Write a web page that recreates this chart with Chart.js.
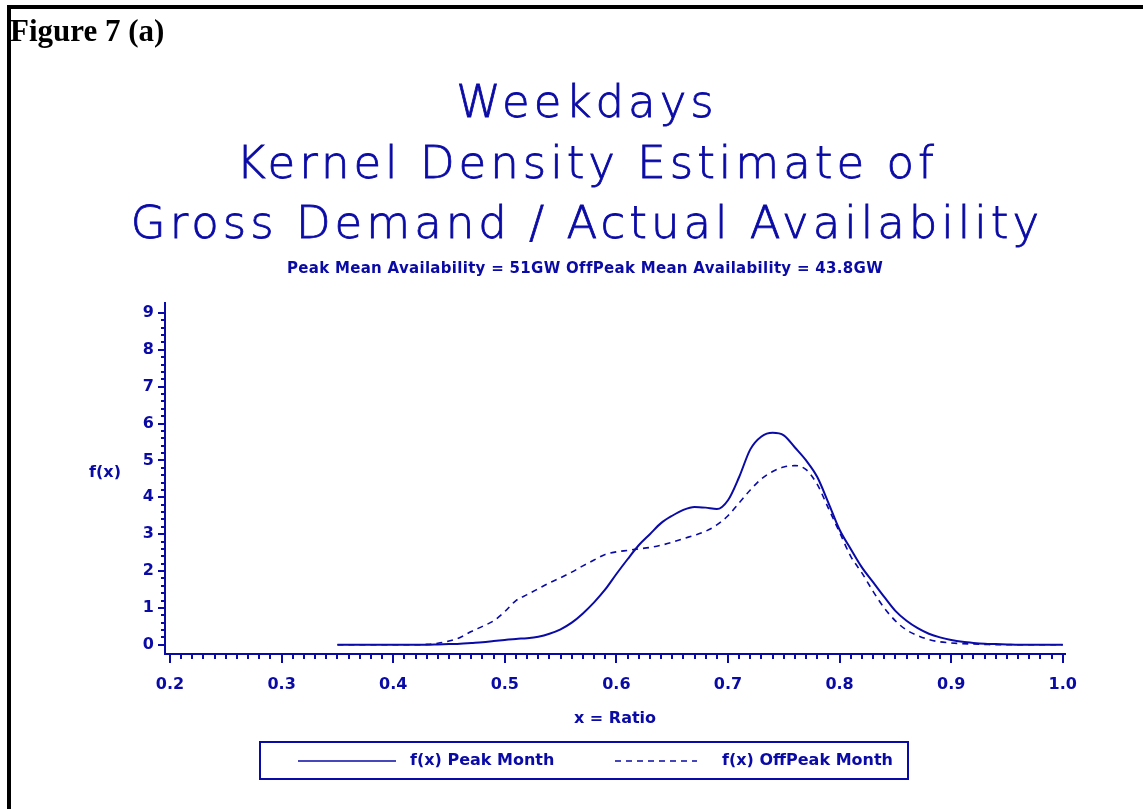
<!DOCTYPE html>
<html>
<head>
<meta charset="utf-8">
<script src="https://cdn.jsdelivr.net/npm/chart.js@4/dist/chart.umd.min.js"></script>
<style>
  html, body { margin: 0; padding: 0; background: #fff; }
  #wrap { position: relative; width: 1143px; height: 809px; }
</style>
</head>
<body>
<div id="wrap"><canvas id="kde"></canvas></div>
<script>
// x = Ratio, one point every 0.01 from 0.35 to 1.00
const ratio = [];
for (let i = 35; i <= 100; i++) ratio.push(i / 100);

const peakMonth = [
  0, 0, 0, 0, 0, 0, 0, 0, 0, 0.01,              // 0.35 - 0.44
  0.02, 0.03, 0.05, 0.07, 0.10, 0.13, 0.16, 0.18, 0.22, 0.30, // 0.45 - 0.54
  0.42, 0.60, 0.85, 1.15, 1.50, 1.92, 2.32, 2.70, 3.00, 3.30, // 0.55 - 0.64
  3.50, 3.66, 3.74, 3.72, 3.68, 3.92, 4.55, 5.30, 5.65, 5.75, // 0.65 - 0.74
  5.68, 5.35, 5.00, 4.55, 3.85, 3.12, 2.60, 2.10, 1.70, 1.30, // 0.75 - 0.84
  0.92, 0.65, 0.45, 0.30, 0.20, 0.13, 0.08, 0.05, 0.03, 0.02, // 0.85 - 0.94
  0.01, 0, 0, 0, 0, 0                                          // 0.95 - 1.00
];

const offPeakMonth = [
  0, 0, 0, 0, 0, 0, 0, 0, 0.01, 0.04,           // 0.35 - 0.44
  0.10, 0.20, 0.36, 0.50, 0.65, 0.90, 1.20, 1.36, 1.52, 1.68, // 0.45 - 0.54
  1.82, 1.97, 2.14, 2.30, 2.45, 2.52, 2.56, 2.60, 2.64, 2.70, // 0.55 - 0.64
  2.78, 2.88, 2.97, 3.08, 3.25, 3.50, 3.85, 4.20, 4.50, 4.70, // 0.65 - 0.74
  4.82, 4.86, 4.75, 4.35, 3.70, 3.05, 2.40, 1.95, 1.45, 1.00, // 0.75 - 0.84
  0.65, 0.40, 0.25, 0.14, 0.08, 0.05, 0.03, 0.02, 0.01, 0,    // 0.85 - 0.94
  0, 0, 0, 0, 0, 0                                             // 0.95 - 1.00
];

const xTicks = [0.2, 0.3, 0.4, 0.5, 0.6, 0.7, 0.8, 0.9, 1.0];
const yTicks = [0, 1, 2, 3, 4, 5, 6, 7, 8, 9];
const seriesNames = ['f(x) Peak Month', 'f(x) OffPeak Month'];
const titleLines = ['Weekdays', 'Kernel Density Estimate of', 'Gross Demand / Actual Availability'];
const subTitle = 'Peak Mean Availability = 51GW OffPeak Mean Availability = 43.8GW';

const BLUE = '#0a0aa6';
const TICK_FONT = { family: 'DejaVu Sans', size: 16, weight: 'bold' };

// titles, minor ticks, page border, figure label, horizontal y title, boxed legend
const decorations = {
  id: 'decorations',
  afterDraw(chart) {
    const ctx = chart.ctx;
    const xs = chart.scales.x, ys = chart.scales.y;
    const area = chart.chartArea;
    ctx.save();

    // titles (wide, thin lettering)
    ctx.fillStyle = BLUE;
    ctx.strokeStyle = BLUE;
    ctx.textAlign = 'center';
    ctx.textBaseline = 'alphabetic';
    ctx.font = '200 45px "DejaVu Sans"';
    ctx.letterSpacing = '4px';
    ctx.lineWidth = 0.8;
    titleLines.forEach((t, i) => {
      const y = 117 + i * 60.5;
      ctx.fillText(t, 587, y);
      ctx.strokeText(t, 587, y);
    });
    ctx.font = 'bold 15px "DejaVu Sans"';
    ctx.letterSpacing = '0.3px';
    ctx.fillText(subTitle, 585, 273);
    ctx.letterSpacing = '0px';

    ctx.lineWidth = 2;
    ctx.beginPath();
    for (let v = 20; v <= 100; v++) {
      if (v % 10 === 0) continue;
      const px = Math.round(xs.getPixelForValue(v / 100));
      ctx.moveTo(px, area.bottom);
      ctx.lineTo(px, area.bottom + 5);
    }
    for (let v = 0; v <= 45; v++) {
      if (v % 5 === 0) continue;
      const py = Math.round(ys.getPixelForValue(v / 5));
      ctx.moveTo(area.left, py);
      ctx.lineTo(area.left - 4, py);
    }
    ctx.stroke();

    // page border
    ctx.fillStyle = '#000';
    ctx.fillRect(7, 5, 1136, 4);
    ctx.fillRect(7, 5, 4, 804);

    ctx.font = 'bold 31px "Liberation Serif"';
    ctx.textAlign = 'left';
    ctx.fillText('Figure 7 (a)', 10, 41);

    ctx.fillStyle = BLUE;
    ctx.font = 'bold 16px "DejaVu Sans"';
    ctx.textAlign = 'center';
    ctx.textBaseline = 'middle';
    ctx.fillText('f(x)', 105, 473);

    // legend
    ctx.strokeStyle = BLUE;
    ctx.lineWidth = 2;
    ctx.strokeRect(260, 742, 648, 37);
    const items = [
      { x0: 298, x1: 396, tx: 410 },
      { x0: 615, x1: 697, tx: 722 }
    ];
    ctx.textAlign = 'left';
    chart.data.datasets.forEach((ds, i) => {
      const it = items[i];
      ctx.lineWidth = 1.6;
      ctx.setLineDash(ds.borderDash || []);
      ctx.beginPath();
      ctx.moveTo(it.x0, 761);
      ctx.lineTo(it.x1, 761);
      ctx.stroke();
      ctx.setLineDash([]);
      ctx.fillText(ds.label, it.tx, 761);
    });
    ctx.restore();
  }
};

new Chart(document.getElementById('kde'), {
  type: 'line',
  data: {
    datasets: [
      {
        label: seriesNames[0],
        data: ratio.map((r, i) => ({ x: r, y: peakMonth[i] })),
        borderColor: BLUE,
        borderWidth: 2,
        pointRadius: 0,
        tension: 0.4,
        cubicInterpolationMode: 'monotone'
      },
      {
        label: seriesNames[1],
        data: ratio.map((r, i) => ({ x: r, y: offPeakMonth[i] })),
        borderColor: BLUE,
        borderWidth: 1.6,
        borderDash: [6, 5],
        pointRadius: 0,
        tension: 0.4,
        cubicInterpolationMode: 'monotone'
      }
    ]
  },
  options: {
    responsive: true,
    maintainAspectRatio: false,
    animation: false,
    layout: { padding: { top: 303, left: 0, right: 78, bottom: 77 } },
    plugins: {
      legend: { display: false },
      tooltip: { enabled: false },
      title: { display: false }
    },
    scales: {
      x: {
        type: 'linear',
        min: 0.1955,
        max: 1.002,
        afterBuildTicks: (s) => { s.ticks = xTicks.map(v => ({ value: v })); },
        afterFit: (s) => { s.height = 78; },
        ticks: {
          color: BLUE,
          font: TICK_FONT,
          padding: 12,
          maxRotation: 0,
          callback: (v) => Number(v).toFixed(1)
        },
        grid: { drawOnChartArea: false, drawTicks: true, tickLength: 9, color: BLUE, lineWidth: 2 },
        border: { display: true, color: BLUE, width: 2 },
        title: {
          display: true,
          text: 'x = Ratio',
          color: BLUE,
          font: { family: 'DejaVu Sans', size: 16, weight: 'bold' },
          padding: { top: 8 }
        }
      },
      y: {
        min: -0.25,
        max: 9.27,
        afterBuildTicks: (s) => { s.ticks = yTicks.map(v => ({ value: v })); },
        afterFit: (s) => { s.width = 165; },
        ticks: { color: BLUE, font: TICK_FONT, padding: 4 },
        grid: { drawOnChartArea: false, drawTicks: true, tickLength: 7, color: BLUE, lineWidth: 2 },
        border: { display: true, color: BLUE, width: 2 }
      }
    }
  },
  plugins: [decorations]
});
</script>
</body>
</html>
